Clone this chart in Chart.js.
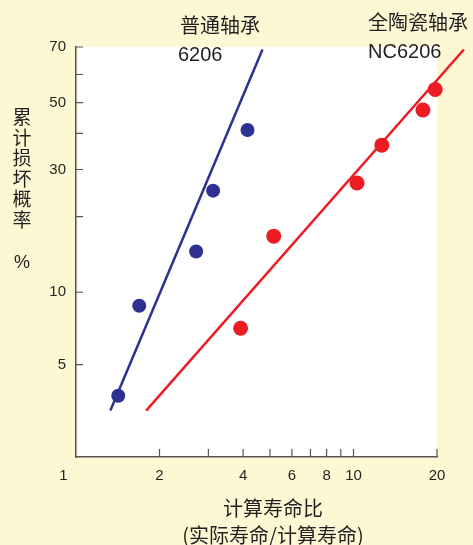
<!DOCTYPE html>
<html>
<head>
<meta charset="utf-8">
<script src="https://cdn.jsdelivr.net/npm/chart.js@4"></script>
<style>
  body { margin: 0; background: #fdf8d4; }
  #wrap { width: 473px; height: 545px; }
</style>
</head>
<body>
<div id="wrap"><canvas id="chart"></canvas></div>
<script>
// life ratio (x) and cumulative failure probability in % (y)
const blueLife = [1.42, 1.69, 2.71, 3.12, 4.15];
const bluePct = [3.7, 8.8, 14.6, 25.1, 41.0];
const redLife = [3.92, 5.16, 10.3, 12.65, 17.8, 19.7];
const redPct = [7.1, 16.8, 26.8, 36.5, 47.5, 54.6];
const blueFitLife = [1.33, 4.70];
const blueFitPct = [3.2, 69.1];
const redFitLife = [1.79, 25.0];
const redFitPct = [3.2, 69.1];

const xTicks = [1, 2, 3, 4, 5, 6, 7, 8, 9, 10, 20];
const xTickLabels = ['1', '2', '', '4', '', '6', '', '8', '', '10', '20'];
const yTicks = [5, 10, 20, 30, 40, 50, 60, 70];
const yTickLabels = ['5', '10', '', '30', '', '50', '', '70'];
const yMin = 2.03, yMax = 70;

const BLUE = '#2e3192', RED = '#ed1c24', INK = '#231f20';

// Weibull probability paper: ln(-ln(1-F))
function weibull(p) { return Math.log(-Math.log(1 - p / 100)); }
function pts(xs, ys) { return xs.map((x, i) => ({ x: x, y: weibull(ys[i]) })); }

const plotBg = {
  id: 'plotBg',
  beforeDraw(chart) {
    const a = chart.chartArea, ctx = chart.ctx;
    ctx.save();
    ctx.fillStyle = '#ffffff';
    ctx.fillRect(a.left + 2, a.top, a.right - a.left - 2, a.bottom - a.top);
    ctx.restore();
  }
};

const inwardTicks = {
  id: 'inwardTicks',
  beforeDatasetsDraw(chart) {
    const ctx = chart.ctx, a = chart.chartArea;
    const xs = chart.scales.x, ys = chart.scales.y;
    ctx.save();
    ctx.strokeStyle = '#555';
    ctx.lineWidth = 1.2;
    ctx.beginPath();
    xTicks.forEach(v => {
      if (v === 1) return;
      const px = xs.getPixelForValue(v);
      ctx.moveTo(px, a.bottom);
      ctx.lineTo(px, a.bottom - 8);
    });
    yTicks.forEach(p => {
      const py = ys.getPixelForValue(weibull(p));
      ctx.moveTo(a.left - 1, py);
      ctx.lineTo(a.left + 7, py);
    });
    ctx.stroke();
    ctx.restore();
  }
};

const labels = {
  id: 'labels',
  afterDraw(chart) {
    const ctx = chart.ctx;
    ctx.save();
    ctx.fillStyle = INK;
    ctx.textBaseline = 'middle';
    ctx.textAlign = 'left';
    ctx.font = '20px "Liberation Sans", "Noto Sans CJK SC"';
    ctx.fillText('普通轴承', 180, 27);
    ctx.fillText('全陶瓷轴承', 368, 24);
    ctx.fillText('6206', 178, 55);
    ctx.fillText('NC6206', 368, 52);

    ctx.textAlign = 'center';
    ctx.font = '19px "Noto Sans CJK SC"';
    ['累', '计', '损', '坏', '概', '率'].forEach((c, i) => ctx.fillText(c, 22, 117 + i * 20.5));
    ctx.font = '18px "Liberation Sans"';
    ctx.fillText('%', 22, 263);

    ctx.font = '20px "Noto Sans CJK SC"';
    ctx.fillText('计算寿命比', 273, 508);
    ctx.fillText('(实际寿命/计算寿命)', 273, 535);
    ctx.restore();
  }
};

new Chart(document.getElementById('chart'), {
  type: 'scatter',
  data: {
    datasets: [
      { data: pts(blueFitLife, blueFitPct), showLine: true, borderColor: BLUE, borderWidth: 2.5, pointRadius: 0 },
      { data: pts(redFitLife, redFitPct), showLine: true, borderColor: RED, borderWidth: 2.5, pointRadius: 0, clip: false },
      { data: pts(blueLife, bluePct), backgroundColor: BLUE, borderWidth: 0, pointRadius: 7, clip: false },
      { data: pts(redLife, redPct), backgroundColor: RED, borderWidth: 0, pointRadius: 7.5, clip: false }
    ]
  },
  options: {
    responsive: true,
    maintainAspectRatio: false,
    animation: false,
    layout: { padding: { top: 47, right: 36, left: 0, bottom: 0 } },
    plugins: { legend: { display: false }, tooltip: { enabled: false } },
    scales: {
      x: {
        type: 'logarithmic',
        min: 1,
        max: 20,
        afterBuildTicks: s => { s.ticks = xTicks.map(v => ({ value: v })); },
        afterFit: s => { s.height = 88; },
        grid: { display: false, drawTicks: false },
        border: { display: true, color: '#555', width: 1.5 },
        ticks: {
          autoSkip: false,
          maxRotation: 0,
          padding: 10,
          color: INK,
          font: { family: 'Liberation Sans', size: 15 },
          callback: (v, i) => i === 0 ? xTickLabels[0] + '      ' : xTickLabels[i]
        }
      },
      y: {
        type: 'linear',
        min: weibull(yMin),
        max: weibull(yMax),
        afterBuildTicks: s => { s.ticks = yTicks.map(p => ({ value: weibull(p) })); },
        afterFit: s => { s.width = 76; },
        grid: { display: false, drawTicks: false },
        border: { display: true, color: '#555', width: 1.5 },
        ticks: {
          autoSkip: false,
          padding: 10,
          color: INK,
          font: { family: 'Liberation Sans', size: 15 },
          callback: (v, i) => yTickLabels[i]
        }
      }
    }
  },
  plugins: [plotBg, inwardTicks, labels]
});
</script>
</body>
</html>
